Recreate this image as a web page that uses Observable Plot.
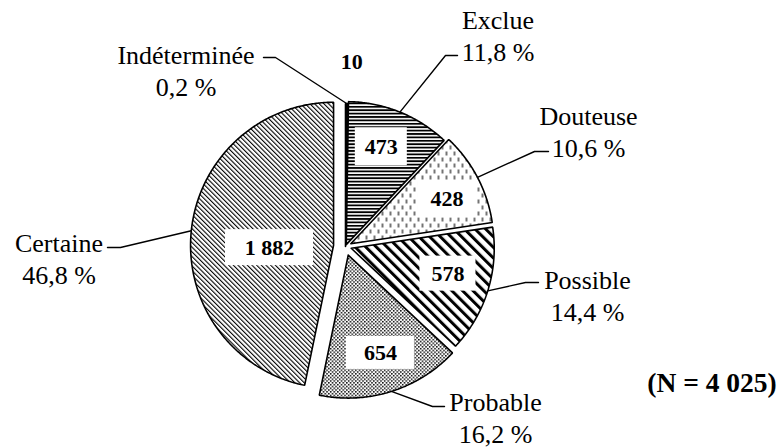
<!DOCTYPE html>
<html><head><meta charset="utf-8">
<script src="https://cdn.jsdelivr.net/npm/d3@7"></script>
<script src="https://cdn.jsdelivr.net/npm/@observablehq/plot@0.6"></script>
<style>html,body{margin:0;padding:0;background:#fff}</style>
</head><body><div id="chart"></div>
<script>
// ---- data ----
const categories = ["Indéterminée", "Exclue", "Douteuse", "Possible", "Probable", "Certaine"];
const counts = [10, 473, 428, 578, 654, 1882];
const patternIds = ["pIndet", "pExclue", "pDouteuse", "pPossible", "pProbable", "pCertaine"];

// ---- layout (pixels) ----
const CX = 345, CY = 246, R = 143;
const explode = [0, 2, 6, 6, 9, 12];
const numDist = [185, 106, 112, 106, 112, 76];
const numDeltaDeg = [1.5, -2.3, 2.7, -2.5, -0.6, -6.7];
const boxW = [0, 52, 59, 56, 68, 88];
const boxH = [0, 38, 37, 35, 33, 36];
const nameX = [185.5, 497.5, 588, 587, 495, 58.5];
const nameBase = [95, 60, 156, 320, 442, 283];
const leaderEnd = [[263, 57], [457, 55], [548, 151], [538, 282], [444, 406], [107, 247]];
const leaderElbow = [[275, 57], [445, 55], [534, 151], [525, 282], [432, 406], [120, 247]];
const FONT = "Liberation Serif";

const total = d3.sum(counts);
const fr = d3.formatLocale({decimal: ",", thousands: "\u00a0", grouping: [3], currency: ["", " €"]});
const fmtInt = fr.format(",d");
const fmtPct = v => fr.format(".1f")(v) + " %";

const arcs = d3.pie().sort(null).value(d => d)(counts);
const rad = Math.PI / 180;
const pt = (a, r, ox, oy) => [CX + ox + r * Math.sin(a), CY + oy - r * Math.cos(a)];

const slicePts = [], leaderPts = [], labels = [], boxes = [];
arcs.forEach((a, i) => {
  const mid = (a.startAngle + a.endAngle) / 2;
  const ox = explode[i] * Math.sin(mid), oy = -explode[i] * Math.cos(mid);
  const fill = `url(#${patternIds[i]})`;
  const n = Math.max(2, Math.ceil((a.endAngle - a.startAngle) / (0.5 * rad)));
  slicePts.push({cat: categories[i], x: CX + ox, y: CY + oy, fill});
  for (let k = 0; k <= n; k++) {
    const ang = a.startAngle + (a.endAngle - a.startAngle) * k / n;
    const [x, y] = pt(ang, R, ox, oy);
    slicePts.push({cat: categories[i], x, y, fill});
  }
  slicePts.push({cat: categories[i], x: CX + ox, y: CY + oy, fill});
  const [lx, ly] = pt(mid, R, ox, oy);
  leaderPts.push({cat: categories[i], x: lx, y: ly});
  leaderPts.push({cat: categories[i], x: leaderElbow[i][0], y: leaderElbow[i][1]});
  leaderPts.push({cat: categories[i], x: leaderEnd[i][0], y: leaderEnd[i][1]});
  const na = mid + numDeltaDeg[i] * rad;
  const [nx, ny] = pt(na, numDist[i], 0, 0);
  labels.push({cat: categories[i], nx, ny, num: fmtInt(counts[i]),
    name: categories[i] + "\n" + fmtPct(counts[i] / total * 100), tx: nameX[i], ty: nameBase[i]});
  if (boxW[i] > 0) boxes.push({x1: nx - boxW[i] / 2, x2: nx + boxW[i] / 2, y1: ny - boxH[i] / 2, y2: ny + boxH[i] / 2});
});

const svg = Plot.plot({
  width: 782, height: 447,
  margin: 0,
  x: {domain: [0, 782], range: [0, 782], axis: null},
  y: {domain: [0, 447], range: [0, 447], axis: null},
  color: {type: "identity"},
  style: {fontFamily: FONT, background: "white"},
  marks: [
    Plot.line(slicePts, {x: "x", y: "y", z: "cat", fill: "fill", stroke: "black", strokeWidth: 1.6, strokeLinejoin: "miter", curve: "linear"}),
    Plot.rect(boxes, {x1: "x1", x2: "x2", y1: "y1", y2: "y2", fill: "white"}),
    Plot.line(leaderPts, {x: "x", y: "y", z: "cat", stroke: "black", strokeWidth: 1.4}),
    Plot.text(labels, {x: "nx", y: "ny", text: "num", fontFamily: FONT, fontSize: 22, fontWeight: "bold", fill: "black", lineAnchor: "middle"}),
    Plot.text(labels, {x: "tx", y: "ty", text: "name", fontFamily: FONT, fontSize: 26, fill: "black", lineAnchor: "bottom", lineHeight: 1.23}),
    Plot.text([`(N = ${fmtInt(total)})`], {x: [711.5], y: [391], text: d => d, fontFamily: FONT, fontSize: 27.5, fontWeight: "bold", fill: "black", lineAnchor: "bottom"})
  ]
});

// pattern definitions
const defs = d3.select(svg).insert("defs", ":first-child");
function pat(id, w, h, transform) {
  const p = defs.append("pattern").attr("id", id).attr("patternUnits", "userSpaceOnUse")
    .attr("width", w).attr("height", h);
  if (transform) p.attr("patternTransform", transform);
  p.append("rect").attr("width", w).attr("height", h).attr("fill", "white");
  return p;
}
pat("pIndet", 4, 4).append("rect").attr("width", 4).attr("height", 4).attr("fill", "black");
pat("pExclue", 8, 3.4).append("rect").attr("width", 8).attr("height", 1.8).attr("fill", "black");
{
  const p = pat("pDouteuse", 8, 12);
  p.append("line").attr("x1", 2).attr("y1", 1).attr("x2", 2).attr("y2", 5).attr("stroke", "black").attr("stroke-width", 1.1);
  p.append("line").attr("x1", 6).attr("y1", 7).attr("x2", 6).attr("y2", 11).attr("stroke", "black").attr("stroke-width", 1.1);
}
pat("pPossible", 7.5, 7.5, "rotate(-45)").append("rect").attr("width", 3).attr("height", 7.5).attr("fill", "black");
{
  const p = pat("pProbable", 3.6, 3.6);
  p.append("rect").attr("x", 0).attr("y", 0).attr("width", 1.5).attr("height", 1.5).attr("fill", "black");
  p.append("rect").attr("x", 1.8).attr("y", 1.8).attr("width", 1.5).attr("height", 1.5).attr("fill", "black");
}
pat("pCertaine", 3.3, 3.3, "rotate(-45)").append("rect").attr("width", 1.1).attr("height", 3.3).attr("fill", "black");

document.getElementById("chart").appendChild(svg);
</script>
</body></html>
